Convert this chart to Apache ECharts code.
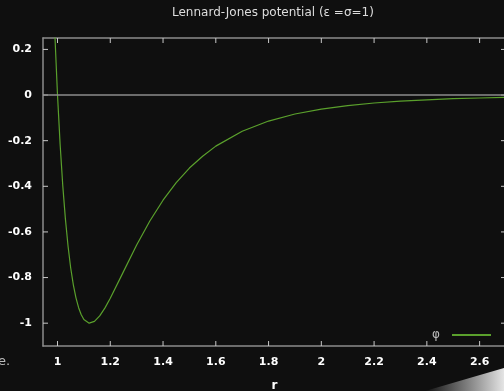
<!DOCTYPE html>
<html>
<head>
<meta charset="utf-8">
<script src="https://cdn.jsdelivr.net/npm/echarts@6/dist/echarts.min.js"></script>
<style>
html,body{margin:0;padding:0;background:#0f0f0f;}
#chart{width:504px;height:391px;}
</style>
</head>
<body>
<div id="chart"></div>
<script>
// Data
var rValues   = [0.980, 0.990, 1.000, 1.010, 1.020, 1.030, 1.040, 1.050, 1.060, 1.070, 1.080, 1.090, 1.100, 1.120, 1.140, 1.160, 1.180, 1.200, 1.250, 1.300, 1.350, 1.400, 1.450, 1.500, 1.550, 1.600, 1.700, 1.800, 1.900, 2.000, 2.100, 2.200, 2.300, 2.400, 2.500, 2.600, 2.700];
var phiValues = [0.580, 0.264, 0.000, -0.218, -0.398, -0.544, -0.663, -0.758, -0.832, -0.889, -0.932, -0.963, -0.984, -1.000, -0.992, -0.968, -0.933, -0.891, -0.774, -0.657, -0.552, -0.461, -0.384, -0.320, -0.268, -0.224, -0.159, -0.114, -0.083, -0.062, -0.046, -0.035, -0.027, -0.021, -0.016, -0.013, -0.010];
var xTickValues = [1, 1.2, 1.4, 1.6, 1.8, 2, 2.2, 2.4, 2.6];
var yTickValues = [-1, -0.8, -0.6, -0.4, -0.2, 0, 0.2];
var seriesName = 'φ';
var titleText = 'Lennard-Jones potential (ε =σ=1)';
var xName = 'r';

var X_MIN = 0.945, X_MAX = 2.7, Y_MIN = -1.1, Y_MAX = 0.25;
var points = rValues.map(function (r, i) { return [r, phiValues[i]]; });

var chart = echarts.init(document.getElementById('chart'), null, {renderer: 'canvas'});
function labelStyle(vals) {
  return {customValues: vals, margin: 11, color: '#ffffff', fontFamily: 'DejaVu Sans', fontWeight: 'bold', fontSize: 11};
}
function axisLineStyle() {
  return {show: true, onZero: false, lineStyle: {color: '#8c8c8c', width: 1.5}};
}
var TICK_LEN = 5, TICK_COLOR = '#c8c8c8';
function tickLine(x1, y1, x2, y2) {
  return {type: 'line', shape: {x1: x1, y1: y1, x2: x2, y2: y2}, style: {stroke: TICK_COLOR, lineWidth: 1}};
}

chart.setOption({
  backgroundColor: '#0f0f0f',
  animation: false,
  title: {
    text: titleText,
    left: 167, top: 2,
    textStyle: {color: '#dddddd', fontFamily: 'DejaVu Sans', fontWeight: 'normal', fontSize: 12}
  },
  grid: {
    left: 43, top: 38, right: -2, bottom: 45,
    outerBoundsMode: 'none',
    containLabel: false,
    show: false
  },
  legend: {
    data: [seriesName],
    right: 13, top: 329,
    padding: 0,
    align: 'right',
    icon: 'rect',
    itemWidth: 39, itemHeight: 2,
    textStyle: {color: '#bbbbbb', fontFamily: 'DejaVu Sans', fontSize: 12, padding: [0, 7, 0, 0]}
  },
  xAxis: [{
    type: 'value', min: X_MIN, max: X_MAX, position: 'bottom',
    name: xName, nameLocation: 'middle', nameGap: 34,
    nameTextStyle: {color: '#ffffff', fontFamily: 'DejaVu Sans', fontWeight: 'bold', fontSize: 12},
    axisLine: axisLineStyle(),
    splitLine: {show: false},
    axisTick: {show: false},
    axisLabel: labelStyle(xTickValues)
  }, {
    type: 'value', min: X_MIN, max: X_MAX, position: 'top',
    axisLine: axisLineStyle(),
    splitLine: {show: false},
    axisTick: {show: false},
    axisLabel: {show: false}
  }],
  yAxis: [{
    type: 'value', min: Y_MIN, max: Y_MAX, position: 'left',
    axisLine: axisLineStyle(),
    splitLine: {show: false},
    axisTick: {show: false},
    axisLabel: labelStyle(yTickValues)
  }, {
    type: 'value', min: Y_MIN, max: Y_MAX, position: 'right',
    axisLine: axisLineStyle(),
    splitLine: {show: false},
    axisTick: {show: false},
    axisLabel: {show: false}
  }],
  series: [{
    name: seriesName,
    type: 'line',
    xAxisIndex: 0, yAxisIndex: 0,
    data: points,
    showSymbol: false,
    clip: true,
    smooth: false,
    itemStyle: {color: '#5aa02c'},
    lineStyle: {color: '#5aa02c', width: 1.2},
    markLine: {
      silent: true,
      symbol: ['none', 'none'],
      label: {show: false},
      lineStyle: {color: '#8c8c8c', width: 1.5, type: 'solid'},
      data: [{yAxis: 0}]
    }
  }, {
    name: 'xticks',
    type: 'custom',
    xAxisIndex: 0, yAxisIndex: 0,
    silent: true, clip: false,
    data: xTickValues.map(function (v) { return [v, Y_MIN]; }),
    renderItem: function (params, api) {
      var v = api.value(0);
      var b = api.coord([v, Y_MIN]);
      var t = api.coord([v, Y_MAX]);
      return {type: 'group', children: [
        tickLine(b[0], b[1], b[0], b[1] - TICK_LEN),
        tickLine(t[0], t[1], t[0], t[1] + TICK_LEN)
      ]};
    }
  }, {
    name: 'yticks',
    type: 'custom',
    xAxisIndex: 0, yAxisIndex: 0,
    silent: true, clip: false,
    data: yTickValues.map(function (v) { return [X_MIN, v]; }),
    renderItem: function (params, api) {
      var v = api.value(1);
      var l = api.coord([X_MIN, v]);
      var r = api.coord([X_MAX, v]);
      return {type: 'group', children: [
        tickLine(l[0], l[1], l[0] + TICK_LEN, l[1]),
        tickLine(r[0], r[1], r[0] - TICK_LEN, r[1])
      ]};
    }
  }],
  graphic: [{
    type: 'text', left: -2, top: 355,
    style: {text: 'e.', fill: '#bbbbbb', font: '13px "DejaVu Sans"'}
  }, {
    type: 'polygon', silent: true,
    shape: {points: [[425, 391], [504, 368], [504, 391]]},
    style: {
      fill: new echarts.graphic.LinearGradient(0, 0, 1, 0, [
        {offset: 0, color: 'rgba(230,230,230,0)'},
        {offset: 1, color: 'rgba(240,240,240,0.95)'}
      ])
    }
  }]
});
</script>
</body>
</html>
